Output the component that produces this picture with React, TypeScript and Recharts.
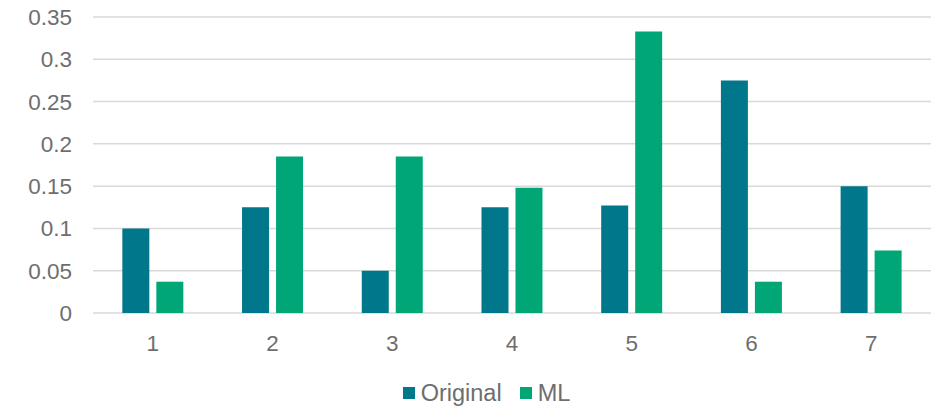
import { BarChart, Bar, XAxis, YAxis, CartesianGrid, Legend } from 'recharts';

const categories = ['1', '2', '3', '4', '5', '6', '7'];
const original = [0.1, 0.125, 0.05, 0.125, 0.127, 0.275, 0.15];
const ml = [0.037, 0.185, 0.185, 0.148, 0.333, 0.037, 0.074];
const yTicks = [0, 0.05, 0.1, 0.15, 0.2, 0.25, 0.3, 0.35];

const COLORS = {
  original: '#00778A',
  ml: '#00A676',
};

const TEXT = '#6E6E6E';
const FONT = '"Liberation Sans", Arial, sans-serif';

const data = categories.map((name, i) => ({ name, original: original[i], ml: ml[i] }));

const legendItems = [
  { key: 'original', label: 'Original', color: COLORS.original },
  { key: 'ml', label: 'ML', color: COLORS.ml },
];

function ChartLegend() {
  return (
    <div style={{ display: 'flex', justifyContent: 'center', gap: 18, paddingLeft: 42, fontFamily: FONT, fontSize: 23.5, color: TEXT, lineHeight: '26px' }}>
      {legendItems.map((item) => (
        <div key={item.key} style={{ display: 'flex', alignItems: 'center', gap: 6 }}>
          <div style={{ width: 12, height: 12, backgroundColor: item.color }} />
          <span>{item.label}</span>
        </div>
      ))}
    </div>
  );
}

export default function App() {
  return (
    <div style={{ width: 941, height: 407 }}>
      <style>{'body{margin:0}'}</style>
      <BarChart
        width={941}
        height={407}
        data={data}
        margin={{ top: 17, right: 10, left: 0, bottom: 1 }}
        barCategoryGap="24.5%"
        barGap={7}
      >
        <CartesianGrid stroke="#D9D9D9" strokeWidth={1.5} vertical={false} />
        <XAxis
          dataKey="name"
          axisLine={false}
          tickLine={false}
          tickSize={0}
          tickMargin={22}
          height={67}
          tick={{ fill: TEXT, fontSize: 22.5, fontFamily: FONT }}
        />
        <YAxis
          domain={[0, 0.35]}
          ticks={yTicks}
          axisLine={false}
          tickLine={false}
          tickSize={0}
          tickMargin={21}
          width={93}
          tickFormatter={(v: number) => String(v)}
          tick={{ fill: TEXT, fontSize: 22.5, fontFamily: FONT }}
        />
        <Legend verticalAlign="bottom" content={() => <ChartLegend />} />
        <Bar dataKey="original" name="Original" fill={COLORS.original} isAnimationActive={false} />
        <Bar dataKey="ml" name="ML" fill={COLORS.ml} isAnimationActive={false} />
      </BarChart>
    </div>
  );
}
